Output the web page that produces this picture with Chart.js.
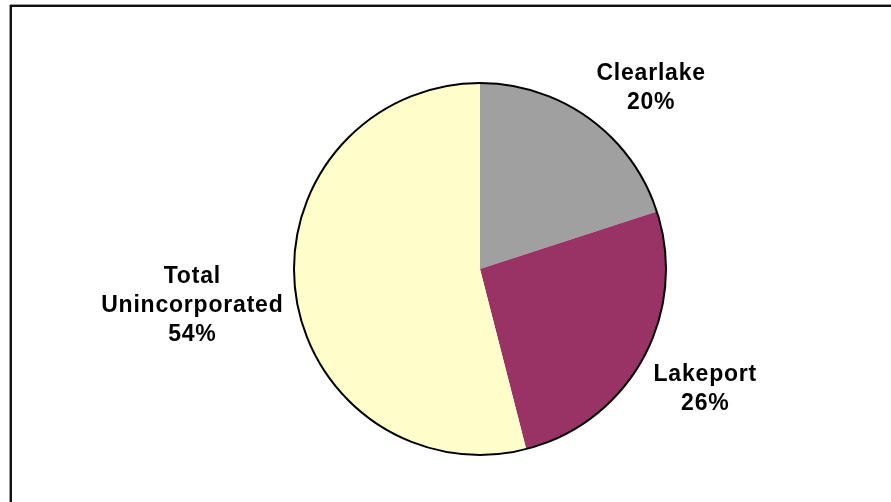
<!DOCTYPE html>
<html>
<head>
<meta charset="utf-8">
<script src="https://cdn.jsdelivr.net/npm/chart.js@4/dist/chart.umd.min.js"></script>
<style>
  html, body { margin: 0; padding: 0; background: #ffffff; }
  #wrap { position: relative; width: 891px; height: 502px; overflow: hidden; }
  #frameTop { position: absolute; left: 10px; top: 5px; width: 881px; height: 2px; background: #111; box-shadow: 0 -1px 0 #9a9a9a; }
  #frameLeft { position: absolute; left: 10px; top: 5px; width: 2px; height: 497px; background: #111; box-shadow: -1px 0 0 #9a9a9a; }
  canvas { position: absolute; left: 0; top: 0; }
</style>
</head>
<body>
<div id="wrap">
  <canvas id="chart" width="891" height="502"></canvas>
  <div id="frameTop"></div>
  <div id="frameLeft"></div>
</div>
<script>
// Share of total by area
const categories = ["Clearlake", "Lakeport", "Total Unincorporated"];
const labelLines = [["Clearlake"], ["Lakeport"], ["Total", "Unincorporated"]];
const shares = [20, 26, 54];
const sliceColors = ["#A0A0A0", "#993366", "#FFFFCC"];

// Outer rim of the pie, drawn once around the whole circle
const rimPlugin = {
  id: "rim",
  afterDatasetsDraw(chart) {
    const arc = chart.getDatasetMeta(0).data[0];
    if (!arc) return;
    const ctx = chart.ctx;
    ctx.save();
    ctx.beginPath();
    ctx.arc(arc.x, arc.y, arc.outerRadius, 0, Math.PI * 2);
    ctx.lineWidth = 2;
    ctx.strokeStyle = "#000";
    ctx.stroke();
    ctx.restore();
  }
};

// Category name and percentage placed outside each slice
const outsideLabels = {
  id: "outsideLabels",
  afterDraw(chart) {
    const ctx = chart.ctx;
    const meta = chart.getDatasetMeta(0);
    const total = shares.reduce((a, b) => a + b, 0);
    const lh = 29;
    ctx.save();
    ctx.font = "bold 23px 'Liberation Sans', Arial, sans-serif";
    if ("letterSpacing" in ctx) ctx.letterSpacing = "0.8px";
    ctx.fillStyle = "#000";
    ctx.textAlign = "center";
    ctx.textBaseline = "alphabetic";
    meta.data.forEach((arc, i) => {
      const mid = (arc.startAngle + arc.endAngle) / 2;
      const dx = Math.cos(mid), dy = Math.sin(mid);
      const d = arc.outerRadius + 12;
      const px = arc.x + d * dx;
      const py = arc.y + d * dy;
      const lines = labelLines[i].concat([Math.round(shares[i] / total * 100) + "%"]);
      const w = Math.max(...lines.map(t => ctx.measureText(t).width));
      const h = (lines.length - 1) * lh + 17;
      const clamp = v => Math.max(-1, Math.min(1, v));
      const cx = px + clamp(dx * 2) * w / 2;
      const cy = py + clamp(dy * 2) * h / 2;
      const top = cy - h / 2 + 17;
      lines.forEach((t, k) => ctx.fillText(t, cx, top + k * lh));
    });
    ctx.restore();
  }
};

new Chart(document.getElementById("chart"), {
  type: "pie",
  data: {
    labels: categories,
    datasets: [{
      data: shares,
      backgroundColor: sliceColors,
      borderColor: sliceColors,
      borderWidth: 0
    }]
  },
  options: {
    responsive: false,
    animation: false,
    layout: { padding: { left: 294, right: 225, top: 83, bottom: 47 } },
    plugins: {
      legend: { display: false },
      tooltip: { enabled: false }
    }
  },
  plugins: [rimPlugin, outsideLabels]
});
</script>
</body>
</html>
